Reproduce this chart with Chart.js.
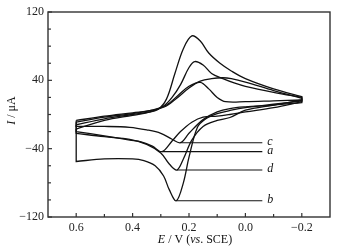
<!DOCTYPE html>
<html><head><meta charset="utf-8">
<script src="https://cdn.jsdelivr.net/npm/chart.js@4/dist/chart.umd.min.js"></script>
<style>html,body{margin:0;padding:0;background:#fff}#wrap{width:347px;height:250px}</style>
</head><body><div id="wrap"><canvas id="c" width="347" height="250"></canvas></div>
<script>
// ---- data (E in V vs SCE, I in microampere) ----
const curveNames = ['a','b','c','d'];
const aE = [0.6,0.5,0.4,0.33,0.28,0.24,0.2,0.16,0.12,0.08,0.05,0.0,-0.1,-0.2, -0.2,-0.1,0.0,0.055,0.1,0.15,0.19,0.23,0.26,0.296,0.33,0.37,0.41,0.5,0.6,0.6];
const aI = [-9,-3,1,5,10,20,31,39,42,43,42,38,28,19, 15,8,3,0,-2,-3,-9,-20,-31,-43.5,-37,-32,-30,-25,-20,-9];
const bE = [0.6,0.5,0.4,0.35,0.31,0.28,0.25,0.22,0.19,0.16,0.13,0.09,0.05,0.0,-0.1,-0.2, -0.2,-0.1,0.0,0.05,0.1,0.14,0.17,0.2,0.22,0.245,0.27,0.29,0.32,0.36,0.4,0.5,0.6,0.6];
const bI = [-17,-7,-1,2,6,18,48,77,92,86,72,60,51,42,30,21, 16,12,8,5,1,-5,-15,-50,-80,-101,-88,-72,-60,-54,-52,-52,-55,-17];
const cE = [0.6,0.5,0.4,0.33,0.28,0.24,0.2,0.16,0.13,0.1,0.07,0.0,-0.1,-0.2, -0.2,-0.1,0.0,0.055,0.1,0.15,0.2,0.23,0.26,0.3,0.35,0.41,0.5,0.6,0.6];
const cI = [-7,-2,2,5,11,22,33,37.5,30,20,15,15,16,17, 14,11,9,7,3,-6,-22,-33,-29,-22,-18,-15,-14,-14,-7];
const dE = [0.6,0.5,0.4,0.33,0.29,0.26,0.23,0.2,0.18,0.15,0.12,0.08,0.04,0.0,-0.1,-0.2, -0.2,-0.1,0.0,0.055,0.1,0.15,0.19,0.22,0.243,0.27,0.3,0.35,0.41,0.5,0.6,0.6];
const dI = [-12,-5,0,4,10,20,35,55,62,58,48,42,37,33,26,20, 17,11,5,-3.5,-7,-14,-30,-52,-65,-58,-45,-35,-29,-26,-22,-12];
const xTickValues = [0.6,0.4,0.2,0.0,-0.2];
const xMinorValues = [0.7,0.5,0.3,0.1,-0.1];
const yTickValues = [120,40,-40,-120];
const yMinorValues = [100,80,60,20,0,-20,-60,-80,-100];
// ---------------------------------------------------

const curves = {a:[aE,aI], b:[bE,bI], c:[cE,cI], d:[dE,dI]};
const LABEL_E = -0.06;
const SERIF = '"Liberation Serif","DejaVu Serif",serif';
const fmt = v => (v < 0 ? '\u2212' : '') + Math.abs(v).toFixed(Number.isInteger(v) && Math.abs(v) >= 1 ? 0 : 1);

// build points; repeat the two ends of a vertical (switching) segment so the spline keeps sharp corners
function buildPoints(E, I) {
  const pts = [];
  E.forEach((e, i) => {
    const p = {x: e, y: I[i]};
    const vertical = (i > 0 && E[i - 1] === e) || (i < E.length - 1 && E[i + 1] === e);
    pts.push(p);
    if (vertical) pts.push({x: e, y: I[i]});
  });
  return pts;
}

const datasets = [];
const peaks = {};
curveNames.forEach(n => {
  const [E, I] = curves[n];
  datasets.push({label: n, data: buildPoints(E, I), showLine: true,
    borderColor: '#111', borderWidth: 1.3, pointRadius: 0, tension: 0.35, fill: false});
  let k = 0; I.forEach((v, i) => { if (v < I[k]) k = i; });
  peaks[n] = {x: E[k], y: I[k]};
});
curveNames.forEach(n => {
  datasets.push({label: n + '-leader', data: [peaks[n], {x: LABEL_E, y: peaks[n].y}], showLine: true,
    borderColor: '#111', borderWidth: 1.1, pointRadius: 0, tension: 0});
});

function drawMixed(ctx, parts, x, y, align) {
  let total = 0;
  parts.forEach(p => { ctx.font = (p[1] ? 'italic ' : '') + '12px ' + SERIF; total += ctx.measureText(p[0]).width; });
  let cx = align === 'center' ? x - total / 2 : x;
  ctx.textAlign = 'left';
  parts.forEach(p => { ctx.font = (p[1] ? 'italic ' : '') + '12px ' + SERIF; ctx.fillText(p[0], cx, y); cx += ctx.measureText(p[0]).width; });
}

const decor = {
  id: 'decor',
  afterDraw(chart) {
    const {ctx, chartArea: ca, scales: {x, y}} = chart;
    ctx.save();
    ctx.strokeStyle = '#333'; ctx.lineWidth = 1.4;
    ctx.strokeRect(ca.left, ca.top, ca.right - ca.left, ca.bottom - ca.top);
    ctx.lineWidth = 1.2;
    const seg = (x1, y1, x2, y2) => { ctx.beginPath(); ctx.moveTo(x1, y1); ctx.lineTo(x2, y2); ctx.stroke(); };
    xTickValues.forEach(v => { const p = x.getPixelForValue(v); seg(p, ca.bottom, p, ca.bottom - 4); });
    xMinorValues.forEach(v => { const p = x.getPixelForValue(v); if (p > ca.left + 1 && p < ca.right - 1) seg(p, ca.bottom, p, ca.bottom - 3); });
    yTickValues.forEach(v => { const p = y.getPixelForValue(v); seg(ca.left, p, ca.left + 4, p); });
    yMinorValues.forEach(v => { const p = y.getPixelForValue(v); seg(ca.left, p, ca.left + 3, p); });
    // curve labels
    ctx.fillStyle = '#111'; ctx.textBaseline = 'middle';
    curveNames.forEach(n => {
      ctx.font = 'italic 12px ' + SERIF; ctx.textAlign = 'left';
      ctx.fillText(n, x.getPixelForValue(LABEL_E) + 5, y.getPixelForValue(peaks[n].y) - 1);
    });
    // axis titles
    ctx.textBaseline = 'middle';
    drawMixed(ctx, [['E', true], [' / V (', false], ['vs', true], ['. SCE)', false]], (ca.left + ca.right) / 2 + 6, 240, 'center');
    ctx.save();
    ctx.translate(12, (ca.top + ca.bottom) / 2 - 4);
    ctx.rotate(-Math.PI / 2);
    drawMixed(ctx, [['I', true], [' / \u03bcA', false]], 0, 0, 'center');
    ctx.restore();
    ctx.restore();
  }
};

new Chart(document.getElementById('c'), {
  type: 'scatter',
  data: {datasets},
  options: {
    responsive: false, animation: false, devicePixelRatio: 1,
    layout: {padding: {top: 12, right: 17, left: 0, bottom: 0}},
    plugins: {legend: {display: false}, tooltip: {enabled: false}},
    scales: {
      x: {type: 'linear', reverse: true, min: -0.3, max: 0.7,
        grid: {display: false, drawTicks: false}, border: {display: false},
        afterBuildTicks: s => { s.ticks = xTickValues.map(v => ({value: v})); },
        afterFit: s => { s.height = 33; },
        ticks: {padding: 4, color: '#222', font: {family: SERIF, size: 12}, maxRotation: 0, callback: v => fmt(v)}},
      y: {type: 'linear', min: -120, max: 120,
        grid: {display: false, drawTicks: false}, border: {display: false},
        afterBuildTicks: s => { s.ticks = yTickValues.map(v => ({value: v})); },
        afterFit: s => { s.width = 48; },
        ticks: {padding: 4, color: '#222', font: {family: SERIF, size: 12}, callback: v => fmt(v)}}
    }
  },
  plugins: [decor]
});
</script></body></html>
